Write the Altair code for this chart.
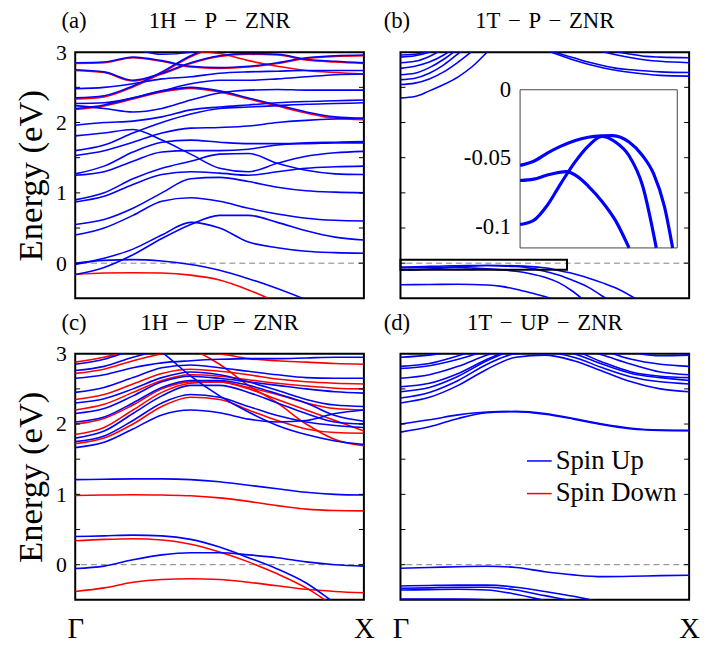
import altair as alt
import pandas as pd

FONT = "Liberation Serif"
BLUE = "#0000ff"
RED = "#ff0000"
W, H = 292, 249

K11 = [0.0, 0.1, 0.2, 0.3, 0.4, 0.5, 0.6, 0.7, 0.8, 0.9, 1.0]

# ---------------- (a) 1H-P-ZNR ----------------
A_UP = [
    [0.0, 0.04, 0.05, 0.03, -0.02, -0.1, -0.22, -0.36, -0.52, -0.7, -0.9],
    [-0.02, 0.07, 0.2, 0.4, 0.58, 0.5, 0.3, 0.22, 0.17, 0.15, 0.14],
    [-0.16, -0.06, 0.12, 0.35, 0.55, 0.68, 0.68, 0.58, 0.46, 0.37, 0.33],
    [0.40, 0.5, 0.68, 0.88, 0.93, 0.88, 0.78, 0.7, 0.64, 0.61, 0.60],
    [0.55, 0.62, 0.78, 1.0, 1.2, 1.22, 1.16, 1.08, 1.03, 1.01, 1.0],
    [0.87, 0.95, 1.12, 1.26, 1.3, 1.28, 1.25, 1.3, 1.35, 1.37, 1.38],
    [0.90, 1.0, 1.2, 1.35, 1.45, 1.55, 1.56, 1.42, 1.32, 1.27, 1.26],
    [1.25, 1.3, 1.45, 1.58, 1.6, 1.6, 1.62, 1.68, 1.71, 1.72, 1.73],
    [1.27, 1.38, 1.58, 1.72, 1.75, 1.72, 1.7, 1.7, 1.7, 1.71, 1.71],
    [1.81, 1.85, 1.9, 1.75, 1.55, 1.35, 1.3, 1.42, 1.52, 1.57, 1.59],
    [1.53, 1.6, 1.72, 1.85, 1.92, 1.93, 1.95, 2.0, 2.03, 2.05, 2.06],
    [1.60, 1.68, 1.85, 2.0, 2.12, 2.2, 2.22, 2.24, 2.26, 2.27, 2.28],
    [1.96, 2.0, 2.02, 2.08, 2.18, 2.22, 2.25, 2.28, 2.3, 2.31, 2.32],
    [2.24, 2.2, 2.15, 2.2, 2.32, 2.42, 2.46, 2.47, 2.46, 2.46, 2.46],
    [2.27, 2.28, 2.35, 2.45, 2.55, 2.6, 2.6, 2.62, 2.65, 2.68, 2.69],
    [2.2, 2.25, 2.35, 2.45, 2.5, 2.45, 2.35, 2.25, 2.15, 2.08, 2.06],
    [2.48, 2.5, 2.55, 2.62, 2.65, 2.7, 2.72, 2.73, 2.74, 2.74, 2.74],
    [2.75, 2.72, 2.6, 2.7, 2.85, 2.95, 2.98, 2.97, 2.9, 2.87, 2.85],
    [2.85, 2.86, 2.93, 2.88, 2.8, 2.78, 2.8, 2.85, 2.92, 2.95, 2.96],
    [2.35, 2.38, 2.52, 2.72, 2.95, 3.1, 3.2, 3.3, 3.4, 3.4, 3.4],
    [3.3, 3.2, 3.05, 2.97, 3.0, 3.1, 3.2, 3.3, 3.3, 3.3, 3.3],
]
A_DN = [
    [-0.16, -0.14, -0.135, -0.14, -0.17, -0.24, -0.38, -0.56, -0.78, -1.0, -1.2],
    [2.335, 2.365, 2.505, 2.705, 2.935, 3.09, 3.2, 3.3, 3.4, 3.4, 3.4],
    [3.3, 3.3, 3.2, 3.1, 3.02, 2.98, 2.88, 2.8, 2.74, 2.71, 2.69],
    [2.185, 2.235, 2.335, 2.435, 2.485, 2.435, 2.335, 2.235, 2.135, 2.06, 2.04],
    [2.74, 2.71, 2.59, 2.69, 2.84, 2.94, 2.97, 2.96, 2.89, 2.86, 2.84],
    [2.84, 2.85, 2.92, 2.87, 2.79, 2.77, 2.79, 2.84, 2.91, 2.94, 2.95],
]

# ---------------- (b) 1T-P-ZNR : (k, E) pairs ----------------
B_UP = [
    [(0, -0.055), (0.05, -0.052), (0.1, -0.046), (0.15, -0.041), (0.2, -0.037), (0.25, -0.0345),
     (0.3, -0.0335), (0.34, -0.0333), (0.4, -0.038), (0.45, -0.048), (0.49, -0.061), (0.53, -0.085),
     (0.56, -0.115), (0.6, -0.15), (0.65, -0.21), (0.7, -0.28), (0.75, -0.36), (0.8, -0.47), (0.85, -0.6)],
    [(0, -0.066), (0.05, -0.065), (0.1, -0.062), (0.17, -0.0595), (0.21, -0.063), (0.25, -0.07),
     (0.3, -0.081), (0.35, -0.095), (0.4, -0.115), (0.45, -0.15), (0.5, -0.2), (0.55, -0.28),
     (0.6, -0.41), (0.65, -0.58)],
    [(0, -0.098), (0.05, -0.095), (0.1, -0.084), (0.15, -0.068), (0.2, -0.053), (0.25, -0.041),
     (0.3, -0.034), (0.35, -0.038), (0.4, -0.048), (0.45, -0.07), (0.5, -0.115), (0.55, -0.17),
     (0.6, -0.25), (0.65, -0.34), (0.7, -0.47), (0.75, -0.62)],
    [(0, -0.307), (0.1, -0.303), (0.2, -0.30), (0.3, -0.31), (0.35, -0.33), (0.4, -0.37),
     (0.45, -0.42), (0.5, -0.475), (0.55, -0.55)],
    [(0, 2.35), (0.05, 2.37), (0.1, 2.45), (0.15, 2.54), (0.2, 2.65), (0.25, 2.8), (0.3, 3.0), (0.35, 3.2)],
    [(0, 2.54), (0.05, 2.56), (0.1, 2.62), (0.15, 2.72), (0.2, 2.86), (0.25, 3.02), (0.3, 3.2)],
    [(0, 2.61), (0.05, 2.63), (0.1, 2.7), (0.15, 2.82), (0.2, 2.98), (0.25, 3.15)],
    [(0, 2.68), (0.05, 2.7), (0.1, 2.78), (0.15, 2.9), (0.2, 3.05)],
    [(0, 2.77), (0.05, 2.8), (0.1, 2.86), (0.15, 2.96), (0.2, 3.1)],
    [(0, 2.85), (0.05, 2.87), (0.1, 2.94), (0.15, 3.05)],
    [(0, 2.93), (0.05, 2.95), (0.1, 3.0), (0.15, 3.08)],
    [(0, 2.96), (0.05, 2.97), (0.1, 3.02)],
    [(0.45, 3.1), (0.5, 3.03), (0.55, 2.96), (0.6, 2.89), (0.65, 2.83), (0.7, 2.78), (0.75, 2.74),
     (0.8, 2.71), (0.9, 2.67), (1.0, 2.66)],
    [(0.46, 3.1), (0.51, 3.03), (0.55, 2.98), (0.6, 2.92), (0.65, 2.86), (0.7, 2.81), (0.75, 2.77),
     (0.8, 2.75), (0.9, 2.72), (1.0, 2.71)],
    [(0.63, 3.1), (0.68, 3.03), (0.75, 2.96), (0.8, 2.92), (0.85, 2.89), (0.9, 2.87), (1.0, 2.85)],
    [(0.67, 3.1), (0.72, 3.03), (0.8, 2.97), (0.85, 2.94), (0.9, 2.93), (1.0, 2.92)],
]
ZOOM_BOX_K = [0.0, 0.577]
ZOOM_BOX_E = [-0.092, 0.048]
INSET_K = [0.0, 0.577]
INSET_E = [-0.115, 0.0]
INSET_TICKS = [0.0, -0.05, -0.1]
INSET_TICK_TEXT = ["0", "-0.05", "-0.1"]

# ---------------- (c) 1H-UP-ZNR ----------------
C_UP = [
    [-0.055, -0.02, 0.07, 0.14, 0.17, 0.17, 0.14, 0.1, 0.04, 0.0, -0.02],
    [0.40, 0.41, 0.42, 0.41, 0.36, 0.25, 0.1, -0.06, -0.26, -0.55, -0.85],
    [1.21, 1.215, 1.22, 1.22, 1.21, 1.18, 1.13, 1.08, 1.03, 1.0, 0.99],
    [1.665, 1.74, 1.93, 2.13, 2.2, 2.16, 2.07, 2.03, 2.05, 2.15, 2.2],
    [1.75, 1.83, 2.05, 2.3, 2.42, 2.38, 2.25, 2.12, 2.03, 1.98, 1.95],
    [1.80, 1.9, 2.15, 2.4, 2.55, 2.55, 2.45, 2.3, 2.15, 2.03, 2.0],
    [2.03, 2.1, 2.3, 2.52, 2.62, 2.62, 2.55, 2.43, 2.3, 2.12, 2.04],
    [2.15, 2.22, 2.4, 2.6, 2.68, 2.65, 2.6, 2.55, 2.5, 2.46, 2.44],
    [2.3, 2.36, 2.5, 2.66, 2.74, 2.7, 2.6, 2.48, 2.35, 2.27, 2.25],
    [2.45, 2.52, 2.66, 2.8, 2.84, 2.8, 2.75, 2.7, 2.66, 2.65, 2.65],
    [2.65, 2.7, 2.8, 2.87, 2.9, 2.92, 2.93, 2.93, 2.94, 2.95, 2.95],
    [2.76, 2.82, 2.95, 3.05, 3.12, 3.2, 3.2, 3.2, 3.2, 3.2, 3.2],
    [2.85, 2.92, 3.05, 3.15, 3.2, 3.2, 3.2, 3.2, 3.2, 3.2, 3.2],
    [3.6, 3.45, 3.25, 3.02, 2.68, 2.4, 2.17, 1.98, 1.85, 1.76, 1.71],
]
C_DN = [
    [-0.38, -0.33, -0.25, -0.21, -0.2, -0.21, -0.25, -0.3, -0.35, -0.38, -0.4],
    [0.34, 0.36, 0.37, 0.35, 0.29, 0.18, 0.04, -0.13, -0.33, -0.6, -0.9],
    [0.985, 0.99, 0.995, 0.99, 0.98, 0.95, 0.9, 0.84, 0.79, 0.77, 0.765],
    [1.72, 1.8, 2.0, 2.25, 2.38, 2.35, 2.2, 2.05, 1.93, 1.88, 1.87],
    [1.85, 1.95, 2.2, 2.45, 2.58, 2.6, 2.5, 2.35, 2.2, 2.05, 1.9],
    [2.0, 2.08, 2.27, 2.5, 2.6, 2.6, 2.52, 2.42, 2.3, 2.22, 2.2],
    [2.2, 2.28, 2.45, 2.62, 2.7, 2.68, 2.63, 2.58, 2.54, 2.51, 2.5],
    [2.35, 2.42, 2.57, 2.72, 2.78, 2.75, 2.7, 2.64, 2.6, 2.58, 2.57],
    [2.72, 2.78, 2.9, 3.0, 3.08, 3.15, 3.2, 3.2, 3.2, 3.2, 3.2],
    [2.88, 2.95, 3.05, 3.12, 3.2, 3.2, 3.2, 3.2, 3.2, 3.2, 3.2],
    [3.6, 3.5, 3.4, 3.2, 3.07, 2.85, 2.55, 2.3, 2.0, 1.78, 1.69],
    [3.3, 3.3, 3.2, 3.1, 3.04, 3.0, 2.93, 2.9, 2.88, 2.86, 2.85],
]

# ---------------- (d) 1T-UP-ZNR ----------------
D_UP = [
    [-0.05, -0.04, -0.028, -0.022, -0.04, -0.1, -0.145, -0.17, -0.165, -0.155, -0.15],
    [-0.303, -0.295, -0.29, -0.29, -0.32, -0.38, -0.45, -0.54, -0.65, -0.8, -0.95],
    [-0.335, -0.33, -0.32, -0.32, -0.36, -0.44, -0.52, -0.62, -0.75, -0.9, -1.05],
    [-0.36, -0.355, -0.35, -0.36, -0.42, -0.51, -0.6, -0.72, -0.85, -1.0, -1.15],
    [-0.49, -0.488, -0.49, -0.5, -0.55, -0.62, -0.7, -0.8, -0.9, -1.0, -1.1],
    [2.0, 2.06, 2.13, 2.17, 2.18, 2.15, 2.08, 2.0, 1.94, 1.915, 1.91],
    [1.885, 1.96, 2.08, 2.16, 2.175, 2.14, 2.07, 1.99, 1.93, 1.91, 1.905],
    [2.30, 2.38, 2.55, 2.78, 2.95, 2.98, 2.9, 2.75, 2.6, 2.5, 2.46],
    [2.37, 2.45, 2.62, 2.85, 3.0, 3.02, 2.95, 2.8, 2.67, 2.6, 2.57],
    [2.46, 2.52, 2.68, 2.9, 3.05, 3.08, 3.0, 2.85, 2.72, 2.66, 2.62],
    [2.53, 2.58, 2.72, 2.92, 3.08, 3.15, 3.05, 2.88, 2.74, 2.68, 2.66],
    [2.65, 2.7, 2.82, 2.98, 3.1, 3.2, 3.1, 2.98, 2.85, 2.74, 2.7],
    [2.79, 2.83, 2.92, 3.05, 3.2, 3.3, 3.2, 3.05, 2.92, 2.85, 2.82],
    [2.82, 2.86, 2.97, 3.1, 3.25, 3.3, 3.3, 3.3, 3.3, 3.3, 3.3],
    [2.95, 2.98, 3.05, 3.15, 3.3, 3.3, 3.3, 3.3, 3.3, 3.3, 3.3],
    [3.3, 3.3, 3.3, 3.3, 3.3, 3.3, 3.2, 3.1, 3.02, 2.97, 2.98],
]

TICK_E = [0.0, 0.5, 1.0, 1.5, 2.0, 2.5]
Y_LABELS = [0, 1, 2, 3]
GAP = "\u2004"
TITLES = [f"1H{GAP}\u2212{GAP}P{GAP}\u2212{GAP}ZNR", f"1T{GAP}\u2212{GAP}P{GAP}\u2212{GAP}ZNR",
          f"1H{GAP}\u2212{GAP}UP{GAP}\u2212{GAP}ZNR", f"1T{GAP}\u2212{GAP}UP{GAP}\u2212{GAP}ZNR"]
TAGS = ["(a)", "(b)", "(c)", "(d)"]
SPINS = ["Spin Up", "Spin Down"]


def grid_df(K, bands, spin, prefix):
    rows = [{"k": k, "E": e, "band": f"{prefix}{i}", "spin": spin}
            for i, b in enumerate(bands) for k, e in zip(K, b)]
    return pd.DataFrame(rows)


def pair_df(bands, spin, prefix):
    rows = [{"k": k, "E": e, "band": f"{prefix}{i}", "spin": spin}
            for i, b in enumerate(bands) for k, e in b]
    return pd.DataFrame(rows)


def xs():
    return alt.Scale(domain=[0, 1], nice=False, zero=False)


def ys():
    return alt.Scale(domain=[-0.5, 3], nice=False, zero=False)


def color_scale():
    return alt.Scale(domain=SPINS, range=[BLUE, RED])


def panel(up_df, dn_df, idx, left, bottom, legend=False, extra=None, independent=False):
    xaxis = (alt.Axis(values=[0, 1], labelExpr="datum.value == 0 ? '\u0393' : 'X'", ticks=False,
                      domain=False, grid=False, labelFont=FONT, labelFontSize=29, labelPadding=15,
                      labelFlush=False, labelColor="black", title=None)
             if bottom else None)
    yaxis = (alt.Axis(values=Y_LABELS, ticks=False, domain=False, grid=False, labelFont=FONT,
                      labelFontSize=22, labelPadding=9, labelColor="black", labelFlush=False,
                      title="Energy (eV)", titleFont=FONT, titleFontSize=35, titleFontWeight="normal",
                      titleColor="black", titlePadding=7)
             if left else None)
    leg = (alt.Legend(orient="none", legendX=127, legendY=95, direction="vertical", symbolType="stroke",
                      symbolSize=625, symbolStrokeWidth=1.5, labelFont=FONT, labelFontSize=27,
                      labelColor="black", labelOffset=3, rowPadding=5, title=None, padding=0)
           if legend else None)
    X = alt.X("k:Q", scale=xs(), axis=xaxis)
    Y = alt.Y("E:Q", scale=ys(), axis=yaxis)
    layers = []
    zero = alt.Chart(pd.DataFrame({"E": [0.0]})).mark_rule(
        color="#808080", strokeDash=[6, 4], strokeWidth=1).encode(y=Y)
    layers.append(zero)
    for df in (dn_df, up_df):
        if df is None:
            continue
        layers.append(
            alt.Chart(df).mark_line(clip=True, strokeWidth=1.6, interpolate="monotone").encode(
                x=X, y=Y, detail="band:N",
                color=alt.Color("spin:N", scale=color_scale(), legend=leg)))
    tdf = pd.DataFrame({"E": TICK_E})
    layers.append(alt.Chart(tdf).mark_rule(color="black", strokeWidth=1).encode(
        y=Y, x=alt.value(0), x2=alt.value(5)))
    layers.append(alt.Chart(tdf).mark_rule(color="black", strokeWidth=1).encode(
        y=Y, x=alt.value(W - 5), x2=alt.value(W)))
    if extra:
        layers.extend(extra(X, Y))
    tag = alt.Chart(pd.DataFrame({"t": [TAGS[idx]]})).mark_text(
        align="left", baseline="alphabetic", font=FONT, fontSize=23, color="black").encode(
        text="t:N", x=alt.value(-14 if left else -17), y=alt.value(-24))
    ttl = alt.Chart(pd.DataFrame({"t": [TITLES[idx]]})).mark_text(
        align="center", baseline="alphabetic", font=FONT, fontSize=23, color="black").encode(
        text="t:N", x=alt.value(W / 2), y=alt.value(-24))
    layers.extend([tag, ttl])
    ch = alt.layer(*layers).properties(width=W, height=H)
    if independent:
        ch = ch.resolve_scale(x="independent", y="independent")
    return ch


def inset_layers(X, Y):
    ixs = alt.Scale(domain=INSET_K, range=[121, 280], nice=False, zero=False)
    iys = alt.Scale(domain=INSET_E, range=[198, 38], nice=False, zero=False)
    box = alt.Chart(pd.DataFrame({"k0": [ZOOM_BOX_K[0]], "k1": [ZOOM_BOX_K[1]],
                                  "e0": [ZOOM_BOX_E[0]], "e1": [ZOOM_BOX_E[1]]})).mark_rect(
        fillOpacity=0, stroke="black", strokeWidth=2).encode(
        x=alt.X("k0:Q", scale=xs(), axis=None), x2="k1:Q",
        y=alt.Y("e0:Q", scale=ys(), axis=None), y2="e1:Q")
    frame = alt.Chart(pd.DataFrame({"k0": [INSET_K[0]], "k1": [INSET_K[1]],
                                    "e0": [INSET_E[0]], "e1": [INSET_E[1]]})).mark_rect(
        fill="white", stroke="#444444", strokeWidth=1).encode(
        x=alt.X("k0:Q", scale=ixs, axis=None), x2="k1:Q",
        y=alt.Y("e0:Q", scale=iys, axis=None), y2="e1:Q")
    idf = pair_df(B_UP[:3], "Spin Up", "i")
    lines = alt.Chart(idf).transform_filter(
        (alt.datum.k <= 0.58) & (alt.datum.E >= -0.1155)).mark_line(
        strokeWidth=3.2, interpolate="monotone").encode(
        x=alt.X("k:Q", scale=ixs, axis=None), y=alt.Y("E:Q", scale=iys, axis=None),
        detail="band:N", color=alt.Color("spin:N", scale=color_scale(), legend=None))
    labels = alt.Chart(pd.DataFrame({"E": INSET_TICKS, "t": INSET_TICK_TEXT})).mark_text(
        align="right", baseline="middle", font=FONT, fontSize=23, color="black").encode(
        y=alt.Y("E:Q", scale=iys, axis=None), x=alt.value(112), text="t:N")
    return [box, frame, lines, labels]


pa = panel(grid_df(K11, A_UP, "Spin Up", "u"), grid_df(K11, A_DN, "Spin Down", "d"), 0, True, False)
pb = panel(pair_df(B_UP, "Spin Up", "u"), None, 1, False, False, extra=inset_layers, independent=True)
pc = panel(grid_df(K11, C_UP, "Spin Up", "u"), grid_df(K11, C_DN, "Spin Down", "d"), 2, True, True)
pdd = panel(grid_df(K11, D_UP, "Spin Up", "u"), None, 3, False, True, legend=True)

chart = alt.concat(pa, pb, pc, pdd, columns=2, spacing={"row": 56, "column": 37}, bounds="flush")
chart = chart.resolve_scale(color="independent").resolve_legend(color="independent")
chart = chart.properties(padding={"left": 5, "top": -2, "right": 0, "bottom": 0})
chart = chart.configure(background="white").configure_view(stroke="black", strokeWidth=2)

chart.save("out.html", embed_options={"renderer": "svg", "actions": False})
